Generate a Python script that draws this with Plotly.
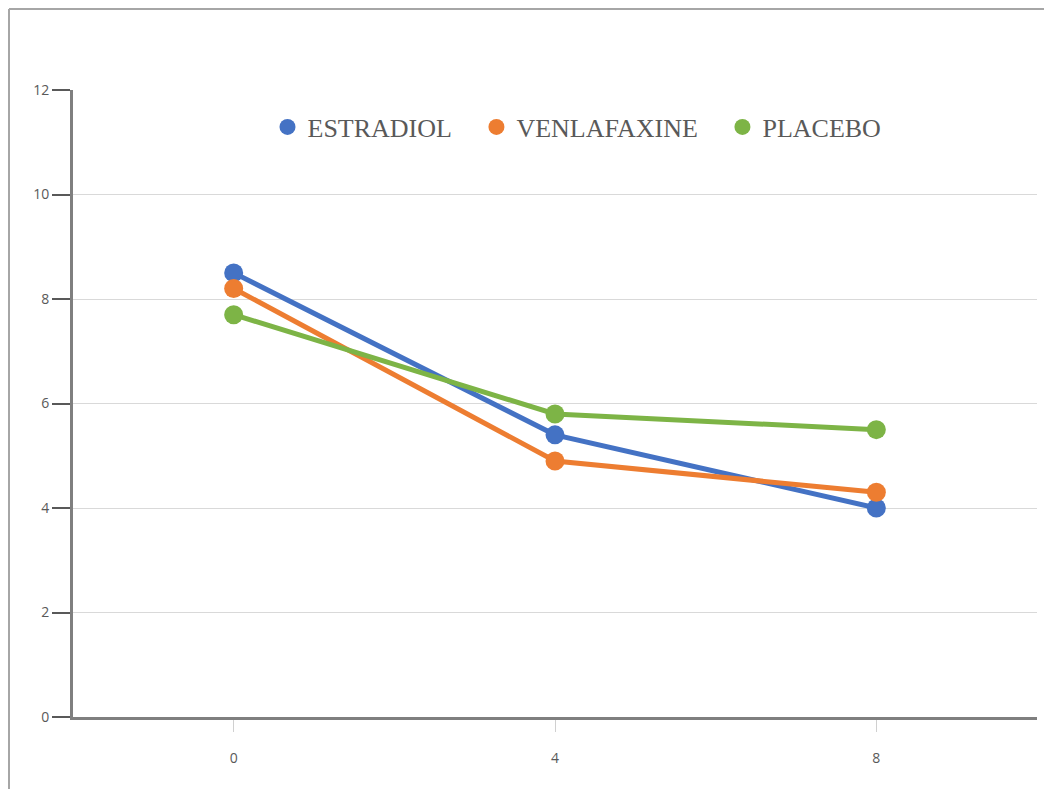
import plotly.graph_objects as go

weeks = [0, 4, 8]
estradiol = [8.5, 5.4, 4.0]
venlafaxine = [8.2, 4.9, 4.3]
placebo = [7.7, 5.8, 5.5]

series = [
    ("ESTRADIOL", estradiol, "#4472C4"),
    ("VENLAFAXINE", venlafaxine, "#ED7D31"),
    ("PLACEBO", placebo, "#7DB446"),
]

fig = go.Figure()
for name, vals, color in series:
    fig.add_trace(go.Scatter(
        x=weeks, y=vals, mode="lines+markers", name=name,
        line=dict(color=color, width=5),
        marker=dict(color=color, size=19),
        showlegend=False,
    ))
# legend entries shown as plain dots; trailing non-breaking spaces widen the gaps
pad = "\u00a0\u00a0\u00a0"
for i, (name, vals, color) in enumerate(series):
    fig.add_trace(go.Scatter(
        x=[None], y=[None], mode="markers",
        name=name + (pad if i < len(series) - 1 else ""),
        marker=dict(color=color, size=16),
    ))

W, H = 1044, 789
L, R, T, B = 73, 7, 90, 72
pw, ph = W - L - R, H - T - B

def px_x(p):
    return (p - L) / pw

def px_y(p):
    return (H - B - p) / ph

# outer frame (left and top edges)
fig.add_shape(type="line", xref="paper", yref="paper",
              x0=px_x(9), x1=px_x(W + 5), y0=px_y(9), y1=px_y(9),
              line=dict(color="#A6A6A6", width=2))
fig.add_shape(type="line", xref="paper", yref="paper",
              x0=px_x(9), x1=px_x(9), y0=px_y(9), y1=px_y(H + 5),
              line=dict(color="#A6A6A6", width=2))

fig.update_layout(
    width=W, height=H,
    margin=dict(l=L, r=R, t=T, b=B),
    paper_bgcolor="white", plot_bgcolor="white",
    showlegend=True,
    legend=dict(
        orientation="h", x=px_x(577), xanchor="center",
        y=px_y(127), yanchor="middle",
        font=dict(family="Liberation Serif", size=26, color="#595959"),
        itemsizing="trace", bgcolor="rgba(0,0,0,0)",
    ),
)
fig.update_xaxes(
    range=[-2, 10], tickvals=weeks, ticktext=[str(w) for w in weeks],
    showgrid=False, zeroline=False,
    showline=True, linecolor="#7F7F7F", linewidth=3,
    ticks="outside", ticklen=12, tickcolor="#D0D0D0", tickwidth=1,
    tickfont=dict(family="Open Sans", size=14, color="#595959"),
    ticklabelstandoff=14,
)
fig.update_yaxes(
    range=[0, 12], tickvals=[0, 2, 4, 6, 8, 10, 12],
    showgrid=True, gridcolor="#D9D9D9", gridwidth=1, zeroline=False,
    showline=True, linecolor="#7F7F7F", linewidth=3,
    ticks="outside", ticklen=18, tickcolor="#595959", tickwidth=2,
    tickfont=dict(family="Open Sans", size=14, color="#595959"),
)

fig.write_html("out.html")
